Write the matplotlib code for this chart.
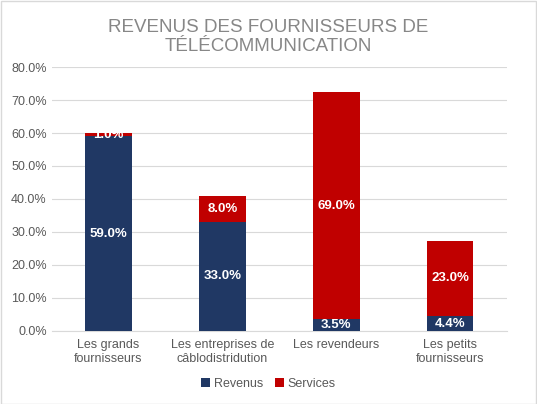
import numpy as np
import matplotlib
matplotlib.use('Agg')
import matplotlib.pyplot as plt

categories = ["Les grands\nfournisseurs", "Les entreprises de\ncâblodistridution",
              "Les revendeurs", "Les petits\nfournisseurs"]
revenus = [59.0, 33.0, 3.5, 4.4]
services = [1.0, 8.0, 69.0, 23.0]
yticks = [0, 10, 20, 30, 40, 50, 60, 70, 80]

plt.rcParams['font.family'] = ['Liberation Sans', 'DejaVu Sans']

blue = '#203864'
red = '#C00000'
grey = '#595959'

fig = plt.figure(figsize=(5.37, 4.04), dpi=100)
ax = fig.add_axes([0.096, 0.181, 0.848, 0.653])

x = np.arange(len(categories))
b1 = ax.bar(x, revenus, width=0.41, color=blue, label='Revenus', zorder=3)
b2 = ax.bar(x, services, width=0.41, bottom=revenus, color=red, label='Services', zorder=3)

# labels inside the segments
for i in range(len(categories)):
    ax.text(x[i], revenus[i] / 2, f"{revenus[i]:.1f}%", ha='center', va='center',
            color='white', fontsize=9.5, fontweight='bold', zorder=4)
    ax.text(x[i], revenus[i] + services[i] / 2, f"{services[i]:.1f}%", ha='center',
            va='center', color='white', fontsize=9.5, fontweight='bold', zorder=4)

ax.set_xlim(-0.5, len(categories) - 0.5)
ax.set_ylim(0, 80)
ax.set_yticks(yticks)
ax.set_yticklabels([f"{v:.1f}%" for v in yticks])
ax.set_xticks(x)
ax.set_xticklabels(categories)
ax.tick_params(axis='both', length=0, colors=grey, labelsize=9)
ax.tick_params(axis='x', pad=6)
ax.grid(axis='y', color='#D9D9D9', linewidth=0.8, zorder=0)
for s in ['top', 'right', 'left']:
    ax.spines[s].set_visible(False)
ax.spines['bottom'].set_color('#D9D9D9')

fig.text(0.5, 0.952, "REVENUS DES FOURNISSEURS DE\nTÉLÉCOMMUNICATION", ha='center', va='top',
         fontsize=13.5, color='#878787', linespacing=1.15)

leg = fig.legend(handles=[b1, b2], loc='center', bbox_to_anchor=(0.5, 0.05), ncol=2,
                 frameon=False, fontsize=9, handlelength=0.7, handleheight=0.7,
                 handletextpad=0.3, columnspacing=1.0)
for t in leg.get_texts():
    t.set_color(grey)

fig.patches.append(plt.Rectangle((0.001, 0.001), 0.997, 0.997, transform=fig.transFigure,
                                 fill=False, edgecolor='#D9D9D9', linewidth=1))

plt.savefig('out.png', dpi=100)
